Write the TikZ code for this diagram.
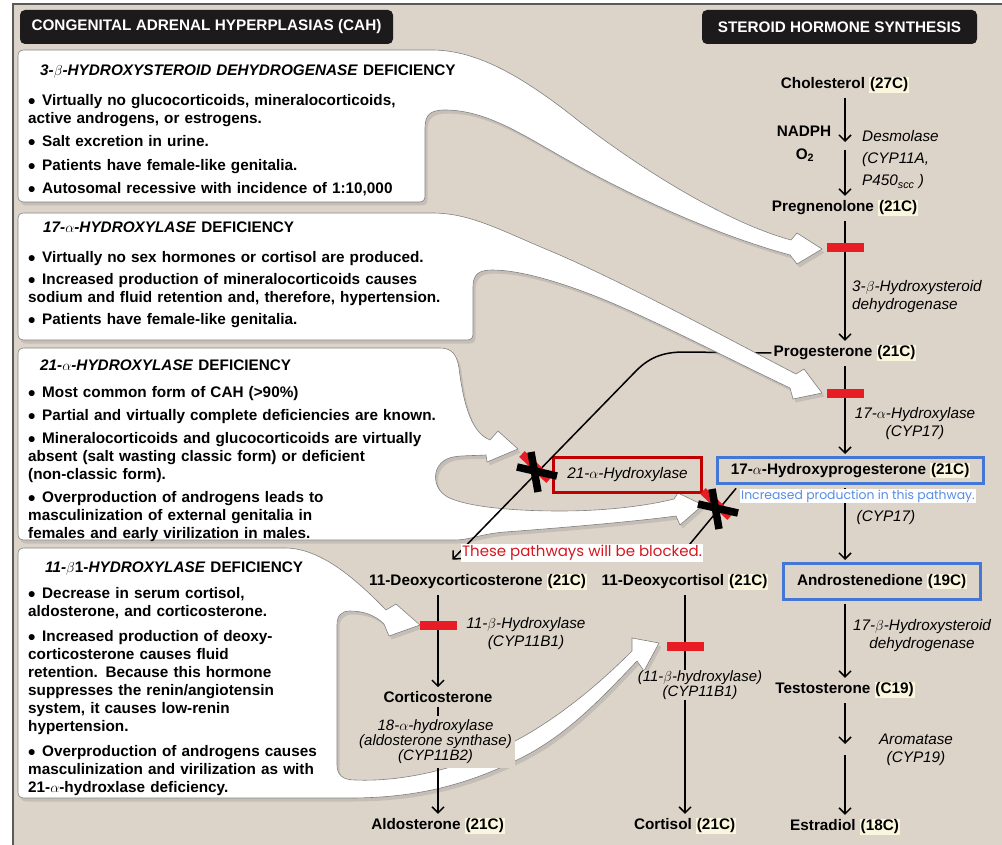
\documentclass[tikz,border=0pt]{standalone}
\usepackage{fontspec}
\setmainfont{Liberation Sans}
\newfontfamily\notefont{Poppins}
\usepackage{xcolor}
\usepackage{amsmath}
\usepackage{amssymb}
\usetikzlibrary{arrows.meta,shadows,calc}

\definecolor{bgbeige}{RGB}{221,212,201}
\definecolor{hlyellow}{RGB}{250,246,222}
\definecolor{barred}{RGB}{232,28,36}
\definecolor{boxred}{RGB}{192,0,0}
\definecolor{boxblue}{RGB}{68,118,214}
\definecolor{noteblue}{RGB}{86,140,230}
\definecolor{notered}{RGB}{214,24,32}
\definecolor{titleblack}{RGB}{28,26,26}
\definecolor{framegray}{RGB}{90,90,90}

\newlength{\bulsep}
\newcommand{\bitem}{\par\vspace{\bulsep}\hangindent=14pt\hangafter=1\noindent\makebox[14pt][l]{\raisebox{-3pt}{\fontsize{21}{18}\selectfont\textbullet}}}
\newcommand{\hl}[1]{{\setlength{\fboxsep}{0.8pt}\colorbox{hlyellow}{#1}}}
\newcommand{\hdr}{\hspace*{12pt}}

\begin{document}
\begin{tikzpicture}[x=1pt,y=-1pt,
		mol/.style={font=\fontsize{15.3}{18}\selectfont\bfseries,inner sep=2pt},
		enz/.style={font=\fontsize{15.3}{18}\selectfont\itshape,inner sep=1pt,align=center},
		boxtext/.style={anchor=base west,inner sep=0pt,text width=470pt,align=left,font=\fontsize{15.3}{18}\selectfont\bfseries},
		titlebox/.style={fill=titleblack,rounded corners=5pt,text=white,font=\fontsize{15.3}{18}\selectfont\bfseries,minimum height=34pt,inner sep=0pt},
		callout/.style={fill=white,draw=black!50,line width=0.6pt,drop shadow={opacity=0.25,shadow xshift=2.5pt,shadow yshift=-3.5pt}},
		conv/.style={line width=1.5pt,shorten <=3pt,shorten >=2pt,-{Straight Barb[length=6pt,width=12pt]}},
		blockbar/.style={fill=barred,minimum width=37pt,minimum height=9pt,inner sep=0pt},
		blockx/.style={line width=7.5pt,black},
		bluebox/.style={mol,draw=boxblue,line width=3pt,inner sep=0pt},
		note/.style={fill=white,inner sep=1pt}]
	\useasboundingbox (0,0) rectangle (1002,845);
	\fill[white] (0,0) rectangle (1002,845);
	\fill[bgbeige] (13,4) rectangle (1002,845);
	\draw[framegray,line width=1.2pt] (13,845) -- (13,4) -- (1002,4);
	
	\node[titlebox,minimum width=373pt] (cah) at (206.5,27) {CONGENITAL ADRENAL HYPERPLASIAS (CAH)};
	\node[titlebox,minimum width=275pt] (shs) at (839.5,27) {STEROID HORMONE SYNTHESIS};
	
	\path[callout] (24,50) -- (432,50)
		.. controls (478,50) and (525,78) .. (580,122)
		.. controls (640,168) and (725,222) .. (791,240)
		-- (797,233) -- (822,249) -- (797,264) -- (790,255)
		.. controls (720,236) and (640,200) .. (580,167)
		.. controls (530,140) and (490,110) .. (445,110)
		.. controls (430,110) and (425,115) .. (425,128)
		-- (425,196) .. controls (425,200) and (423,202) .. (419,202)
		-- (24,202) .. controls (20,202) and (18,200) .. (18,196)
		-- (18,56) .. controls (18,52) and (20,50) .. (24,50) -- cycle;
	\path[callout] (24,348) -- (440,348)
		.. controls (452,348) and (457,355) .. (459,368)
		.. controls (463,400) and (470,432) .. (490,440)
		-- (498,431) -- (518,449) -- (487,462) -- (486,455)
		.. controls (470,456) and (455,455) .. (447,459)
		.. controls (430,467) and (432,492) .. (452,499)
		.. controls (475,508) and (520,511) .. (560,511)
		.. controls (610,511) and (650,505) .. (674,499)
		-- (678,493) -- (703,505) -- (680,525) -- (676,516)
		.. controls (640,521) and (560,528) .. (505,532)
		.. controls (480,534) and (470,540) .. (455,540)
		-- (24,540) .. controls (20,540) and (18,538) .. (18,534)
		-- (18,354) .. controls (18,350) and (20,348) .. (24,348) -- cycle;
	\path[callout] (24,548) -- (285,548)
		.. controls (320,548) and (355,578) .. (386,610)
		-- (396,604) -- (420,625) -- (389,636) -- (384,624)
		.. controls (375,615) and (363,611) .. (350,611)
		.. controls (341,611) and (337,616) .. (337,625)
		-- (337,765) .. controls (337,775) and (343,780) .. (355,780)
		.. controls (400,782) and (460,770) .. (517,740)
		.. controls (565,714) and (605,678) .. (632,651)
		-- (632,638) -- (659,643) -- (644,671) -- (637,661)
		.. controls (600,700) and (565,737) .. (517,760)
		.. controls (470,783) and (420,798) .. (350,798)
		-- (24,798) .. controls (20,798) and (18,796) .. (18,792)
		-- (18,554) .. controls (18,550) and (20,548) .. (24,548) -- cycle;
	
	\node[boxtext] (hsdtext) at (28,75.5) {\setlength{\bulsep}{5.5pt}\hdr\textit{3-$\beta$-HYDROXYSTEROID DEHYDROGENASE} DEFICIENCY\par\vspace{6.5pt}
		\bitem Virtually no glucocorticoids, mineralocorticoids,\\active androgens, or estrogens.
		\bitem Salt excretion in urine.
		\bitem Patients have female-like genitalia.
		\bitem Autosomal recessive with incidence of 1:10,000};
	\node[boxtext] (cyp21text) at (28,370.5) {\setlength{\bulsep}{5pt}\hdr\textit{21-$\alpha$-HYDROXYLASE} DEFICIENCY\par\vspace{4pt}
		\bitem Most common form of CAH (>90\%)
		\bitem Partial and virtually complete deficiencies are known.
		\bitem Mineralocorticoids and glucocorticoids are virtually\\absent (salt wasting classic form) or deficient\\(non-classic form).
		\bitem Overproduction of androgens leads to\\masculinization of external genitalia in\\females and early virilization in males.};
	\node[boxtext] (cyp11text) at (28,572.5) {\setlength{\bulsep}{7pt}\hspace*{17pt}\textit{11-}$\beta$1-\textit{HYDROXYLASE} DEFICIENCY\par\vspace{1pt}
		\bitem Decrease in serum cortisol,\\aldosterone, and corticosterone.
		\bitem Increased production of deoxy-\\corticosterone causes fluid\\retention. Because this hormone\\suppresses the renin/angiotensin\\system, it causes low-renin\\hypertension.
		\bitem Overproduction of androgens causes\\masculinization and virilization as with\\21-$\alpha$-hydroxlase deficiency.};
	
	\node[mol] (chol) at (845,85) {Cholesterol \hl{(27C)}};
	\node[mol] (preg) at (845,208) {Pregnenolone \hl{(21C)}};
	\node[mol] (prog) at (845,353) {Progesterone \hl{(21C)}};
	\node[bluebox,minimum width=266pt,minimum height=26pt] (ohp) at (850.5,470.5) {17-$\alpha$-Hydroxyprogesterone \hl{(21C)}};
	\node[bluebox,minimum width=197pt,minimum height=36pt] (andro) at (882,581.5) {Androstenedione \hl{(19C)}};
	\node[mol] (testo) at (845,690) {Testosterone \hl{(C19)}};
	\node[mol] (estra) at (845,827) {Estradiol \hl{(18C)}};
	\node[mol] (dcs) at (478,582) {11-Deoxycorticosterone \hl{(21C)}};
	\node[mol] (cort) at (438,697) {Corticosterone};
	\node[enz,fill=bgbeige,font=\fontsize{15}{15}\selectfont\itshape,minimum width=159pt,minimum height=52pt,inner sep=0pt] (a18) at (435.5,742) {18-$\alpha$-hydroxylase\\(aldosterone synthase)\\(CYP11B2)};
	\node[mol] (aldo) at (438,826) {Aldosterone \hl{(21C)}};
	\node[mol] (dcl) at (685,582) {11-Deoxycortisol \hl{(21C)}};
	\node[mol] (cortisol) at (685,826) {Cortisol \hl{(21C)}};
	\node[enz,draw=boxred,line width=3pt,fill=bgbeige,minimum width=148pt,minimum height=35pt,inner sep=0pt] (h21) at (627.5,475) {21-$\alpha$-Hydroxylase};
	
	\coordinate (dcsin) at (451,561);
	\coordinate (dclin) at (680,556);
	\draw[conv,shorten <=0pt] (prog.west) -- (684,352) .. controls (662,352) and (648,358) .. (634,373) -- (dcsin);
	\draw[conv] ($(ohp.south west)+(22,1)$) -- (dclin);
	
	\path[callout] (24,213) -- (432,213)
		.. controls (470,213) and (500,230) .. (548,250)
		.. controls (620,280) and (740,345) .. (796,374)
		-- (804,369) -- (822,393) -- (793,399) -- (790,388)
		.. controls (735,362) and (650,318) .. (600,298)
		.. controls (560,282) and (520,270) .. (492,270)
		.. controls (478,270) and (473,275) .. (473,287)
		-- (473,334) .. controls (473,338) and (471,340) .. (467,340)
		-- (24,340) .. controls (20,340) and (18,338) .. (18,334)
		-- (18,219) .. controls (18,215) and (20,213) .. (24,213) -- cycle;
	\node[boxtext] (cyp17text) at (28,232.5) {\setlength{\bulsep}{4pt}\hspace*{15pt}\textit{17-$\alpha$-HYDROXYLASE} DEFICIENCY\par\vspace{8pt}
		\bitem Virtually no sex hormones or cortisol are produced.
		\bitem Increased production of mineralocorticoids causes\\sodium and fluid retention and, therefore, hypertension.
		\bitem Patients have female-like genitalia.};
	
	\coordinate (chola) at (845,144);
	\coordinate (cholb) at (845,150);
	\coordinate (testa) at (845,746);
	\coordinate (testb) at (845,755);
	\draw[conv] (chol.south) -- (chola);
	\draw[conv,shorten <=0pt] (cholb) -- (preg.north);
	\draw[conv] (preg.south) -- (prog.north);
	\draw[conv] (prog.south) -- (ohp.north -| prog.south);
	\draw[conv] (ohp.south -| prog.south) -- (andro.north -| prog.south);
	\draw[conv] (andro.south -| testo.north) -- (testo.north);
	\draw[conv] (testo.south) -- (testa);
	\draw[conv,shorten <=0pt] (testb) -- (estra.north);
	\draw[conv] (dcs.south -| cort.north) -- (cort.north);
	\draw[line width=1.5pt,shorten <=2pt] (cort.south) -- (a18.north -| cort.south);
	\draw[conv,shorten <=0pt] (a18.south -| aldo.north) -- (aldo.north);
	\draw[conv] (dcl.south) -- (cortisol.north);
	
	\foreach \n/\p in {bar1/{845,248},bar2/{845,393.5},bar3/{438.5,625.5},bar4/{685,646.5}}
		\node[blockbar] (\n) at (\p) {};
	
	\node[mol] (nadph) at (804,131) {NADPH};
	\node[mol] (oxy) at (805,155) {O\textsubscript{2}};
	\node[enz,anchor=west,align=left,font=\fontsize{15.3}{22}\selectfont\itshape] (desmo) at (861,160) {Desmolase\\(CYP11A,\\P450\textsubscript{scc} )};
	\node[enz,anchor=west,align=left] (hsd3) at (851,297) {3-$\beta$-Hydroxysteroid\\dehydrogenase};
	\node[enz] (cyp17a) at (915,424) {17-$\alpha$-Hydroxylase\\(CYP17)};
	\node[enz] (cyp17b) at (886,518) {(CYP17)};
	\node[enz] (hsd17) at (922,636) {17-$\beta$-Hydroxysteroid\\dehydrogenase};
	\node[enz] (arom) at (916,749.5) {Aromatase\\(CYP19)};
	\node[enz] (cyp11b1) at (526,634) {11-$\beta$-Hydroxylase\\(CYP11B1)};
	\node[enz,fill=bgbeige,font=\fontsize{15}{15}\selectfont\itshape] (cyp11b1b) at (700,685) {(11-$\beta$-hydroxylase)\\(CYP11B1)};
	
	\coordinate (x1) at (536,471);
	\coordinate (x2) at (717,508);
	\foreach \c in {x1,x2}{
		\draw[barred,line width=8pt] ($(\c)+(-14,-17)$) -- ($(\c)+(13,9)$);
		\draw[blockx] ($(\c)+(-5,-19)$) -- ($(\c)+(2,21)$);
		\draw[blockx] ($(\c)+(-19,-4)$) -- ($(\c)+(21,5)$);
	}
	
	\node[note,text=noteblue,font=\notefont\fontsize{12.4}{14}\selectfont] (incr) at (858,496) {Increased production in this pathway.};
	\node[note,text=notered,font=\notefont\fontsize{15}{17}\selectfont] (blk) at (582,553) {These pathways will be blocked.};
\end{tikzpicture}
\end{document}
